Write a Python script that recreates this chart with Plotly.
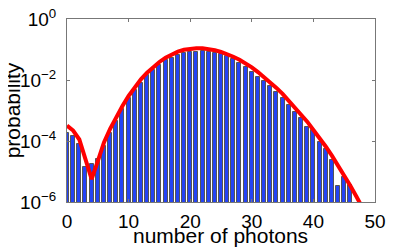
import plotly.graph_objects as go

# measured photon-number distribution (bars)
photons = list(range(47))
measured = [1.86e-4, 1.45e-4, 7.8e-5, 1.38e-5, 1.78e-5, 2.5e-5, 6.9e-5, 1.78e-4,
            4.5e-4, 1.10e-3, 2.6e-3, 4.7e-3, 8.1e-3, 1.41e-2, 2.19e-2, 3.1e-2,
            4.4e-2, 5.4e-2, 6.6e-2, 7.9e-2, 8.5e-2, 8.5e-2, 8.9e-2, 8.5e-2,
            7.9e-2, 6.9e-2, 6.2e-2, 5.0e-2, 3.7e-2, 2.6e-2, 1.86e-2, 1.29e-2,
            9.3e-3, 6.3e-3, 4.0e-3, 2.5e-3, 1.51e-3, 9.1e-4, 5.5e-4, 2.8e-4,
            2.3e-4, 9.5e-5, 5.4e-5, 2.4e-5, 3.3e-6, 6.8e-6, 3.6e-6]

# theory curve (red)
theory_n = list(range(49))
theory = [3.2e-4, 2.2e-4, 1.12e-4, 2.5e-5, 5.6e-6, 2.2e-5, 8.9e-5, 2.5e-4,
          6.3e-4, 1.41e-3, 3.0e-3, 5.8e-3, 1.05e-2, 1.74e-2, 2.7e-2, 3.9e-2,
          5.4e-2, 6.9e-2, 8.5e-2, 9.8e-2, 0.107, 0.110, 0.110, 0.105,
          9.5e-2, 8.3e-2, 7.1e-2, 5.8e-2, 4.6e-2, 3.5e-2, 2.6e-2, 1.82e-2,
          1.26e-2, 8.5e-3, 5.5e-3, 3.5e-3, 2.1e-3, 1.29e-3, 7.6e-4, 4.3e-4,
          2.3e-4, 1.26e-4, 6.6e-5, 3.3e-5, 1.58e-5, 7.4e-6, 3.4e-6, 1.48e-6,
          6.3e-7]

x_ticks = [0, 10, 20, 30, 40, 50]
y_ticks = [1e-6, 1e-4, 1e-2, 1]
y_ticktext = ["10<sup>−6</sup>", "10<sup>−4</sup>", "10<sup>−2</sup>", "10<sup>0</sup>"]

fig = go.Figure()
fig.add_trace(go.Bar(x=photons, y=measured, width=0.65,
                     marker=dict(color="#2443f5", line=dict(color="#555", width=1))))
fig.add_trace(go.Scatter(x=theory_n, y=theory, mode="lines",
                         line=dict(color="#ff0000", width=4)))

# page body has an 8px margin, so the figure is a bit smaller than the window
font = dict(family="Liberation Sans, Arial, sans-serif", size=19, color="black")
fig.update_layout(
    width=407, height=241,
    margin=dict(l=59, r=40, t=11, b=47),
    paper_bgcolor="white", plot_bgcolor="white",
    showlegend=False, font=font, bargap=0,
)
fig.update_xaxes(range=[0, 50], tickvals=x_ticks, ticks="inside", ticklen=3,
                 tickcolor="#777", showline=True, linecolor="#777", linewidth=1,
                 mirror="ticks", showgrid=False, zeroline=False, automargin=False,
                 ticklabelstandoff=2, ticklabeloverflow="allow")
fig.update_yaxes(type="log", range=[-6, 0], tickvals=y_ticks, ticktext=y_ticktext,
                 ticks="inside", ticklen=3, tickcolor="#777", showline=True,
                 linecolor="#777", linewidth=1, mirror="ticks", showgrid=False,
                 zeroline=False, automargin=False, ticklabelstandoff=6,
                 ticklabeloverflow="allow")

fig.add_annotation(text="number of photons", xref="paper", yref="paper",
                   x=0.497, y=-0.185, xanchor="center", yanchor="middle",
                   showarrow=False, font=dict(size=21))
fig.add_annotation(text="probability", xref="paper", yref="paper",
                   x=-0.174, y=0.503, xanchor="center", yanchor="middle",
                   textangle=-90, showarrow=False, font=dict(size=21))

fig.write_html("out.html")
